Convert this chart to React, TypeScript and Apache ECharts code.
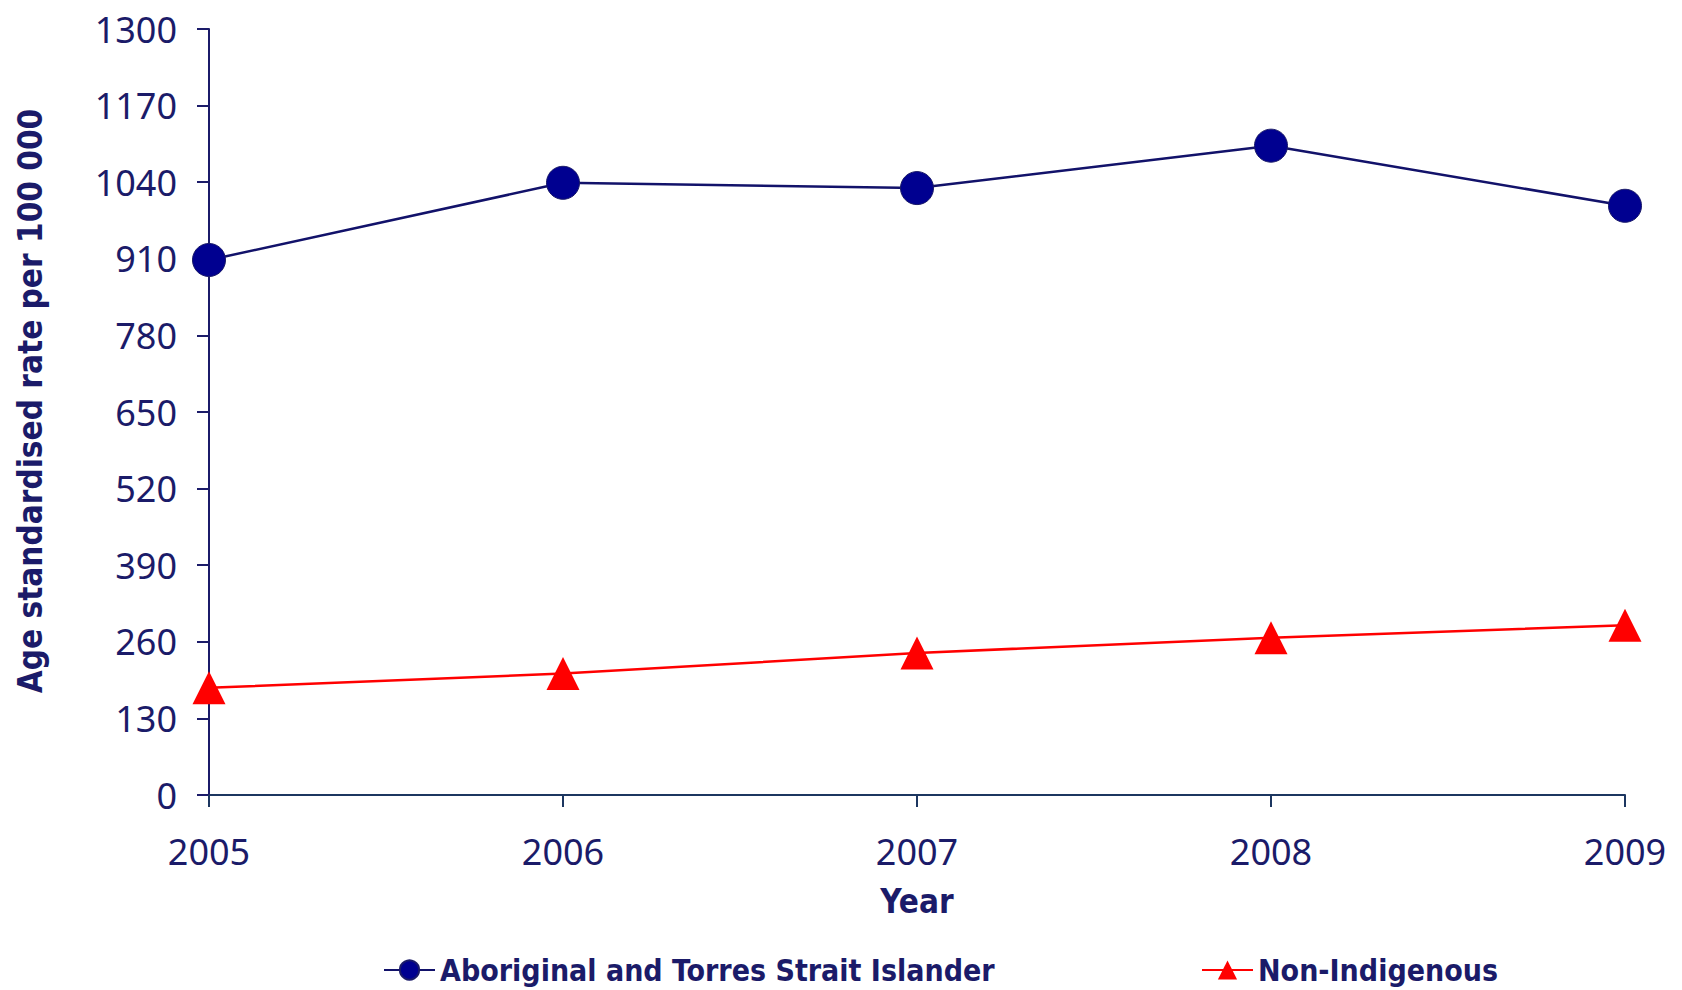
import React, { useEffect, useRef } from "react";
import * as echarts from "echarts";

const years = ["2005", "2006", "2007", "2008", "2009"];
const indigenous = [908, 1039, 1030, 1102, 1000];
const nonIndigenous = [182, 206, 241, 267, 288];
const seriesNames = ["Aboriginal and Torres Strait Islander", "Non-Indigenous"];

const NAVY = "#1b1b69";
const LABEL_FONT = "'Noto Sans', 'Open Sans', sans-serif";
const BOLD_FONT = "'Liberation Sans Narrow', 'DejaVu Sans Condensed', 'Roboto', sans-serif";

export default function App() {
  const ref = useRef<HTMLDivElement>(null);
  useEffect(() => {
    if (!ref.current) return;
    const chart = echarts.init(ref.current, null, { renderer: "svg" });
    const legendText = { color: NAVY, fontFamily: BOLD_FONT, fontWeight: "bold", fontSize: 30 };
    chart.setOption({
      animation: false,
      backgroundColor: "#ffffff",
      grid: { left: 209, right: 57, top: 29, bottom: 195, containLabel: false },
      legend: [
        {
          data: [seriesNames[0]],
          left: 378,
          top: 950,
          itemWidth: 51,
          itemHeight: 24,
          itemGap: 5,
          textStyle: legendText,
        },
        {
          data: [seriesNames[1]],
          left: 1196,
          top: 950,
          itemWidth: 51,
          itemHeight: 24,
          itemGap: 5,
          textStyle: legendText,
        },
      ],
      xAxis: {
        type: "category",
        data: years,
        boundaryGap: false,
        name: "Year",
        nameLocation: "middle",
        nameGap: 90,
        nameTextStyle: { color: NAVY, fontFamily: BOLD_FONT, fontWeight: "bold", fontSize: 33 },
        axisLine: { lineStyle: { color: "#1c3660", width: 2 } },
        axisTick: { show: true, length: 12, inside: false, alignWithLabel: true, lineStyle: { color: "#1c3660", width: 2 } },
        axisLabel: { color: NAVY, fontFamily: LABEL_FONT, fontSize: 36, margin: 38 },
        splitLine: { show: false },
      },
      yAxis: {
        type: "value",
        min: 0,
        max: 1300,
        interval: 130,
        name: "Age standardised rate per 100 000",
        nameLocation: "middle",
        nameGap: 162,
        nameTextStyle: {
          color: NAVY,
          fontFamily: BOLD_FONT,
          fontWeight: "bold",
          fontSize: 33,
          padding: [0, 0, 0, 22],
        },
        axisLine: { show: true, lineStyle: { color: NAVY, width: 2 } },
        axisTick: { show: true, length: 12, lineStyle: { color: NAVY, width: 2 } },
        axisLabel: {
          color: NAVY,
          fontFamily: LABEL_FONT,
          fontSize: 36,
          margin: 32,
          formatter: (v: number) => String(v),
        },
        splitLine: { show: false },
      },
      series: [
        {
          name: seriesNames[0],
          type: "line",
          data: indigenous,
          symbol: "circle",
          symbolSize: 33,
          lineStyle: { color: "#12126a", width: 2.5 },
          itemStyle: { color: "#000090", borderColor: "#1b1b69", borderWidth: 1 },
          z: 3,
        },
        {
          name: seriesNames[1],
          type: "line",
          data: nonIndigenous,
          symbol: "triangle",
          symbolSize: 33,
          lineStyle: { color: "#ff0000", width: 2.5 },
          itemStyle: { color: "#ff0000" },
          z: 3,
        },
      ],
    });
    return () => chart.dispose();
  }, []);
  return (
    <div
      ref={ref}
      style={{ position: "fixed", left: 0, top: 0, width: 1682, height: 990, background: "#fff" }}
    />
  );
}
